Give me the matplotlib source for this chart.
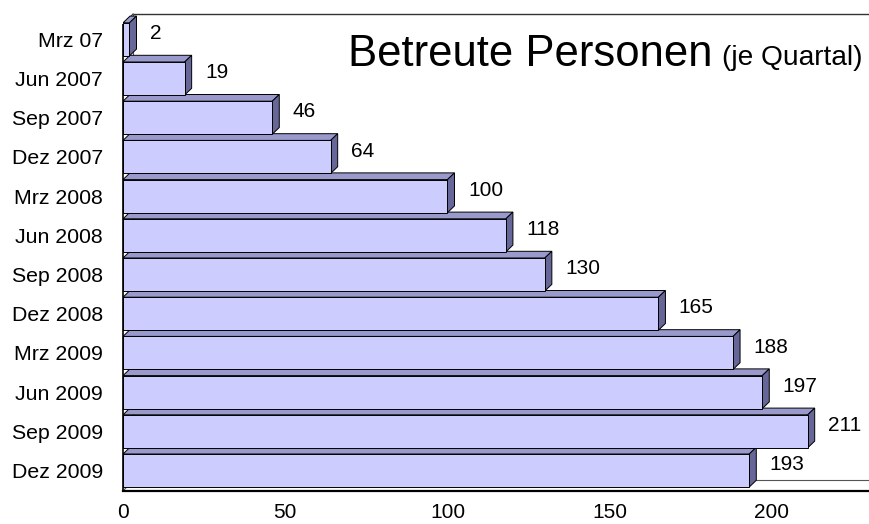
import matplotlib
matplotlib.use("Agg")
from matplotlib import pyplot as plt
from matplotlib.patches import Polygon

plt.rcParams["font.family"] = ["Liberation Sans", "DejaVu Sans"]

quarters = ["Mrz 07", "Jun 2007", "Sep 2007", "Dez 2007",
            "Mrz 2008", "Jun 2008", "Sep 2008", "Dez 2008",
            "Mrz 2009", "Jun 2009", "Sep 2009", "Dez 2009"]
persons = [2, 19, 46, 64, 100, 118, 130, 165, 188, 197, 211, 193]
xticks = [0, 50, 100, 150, 200]

W, H = 869, 524
fig = plt.figure(figsize=(W / 100, H / 100), dpi=100)
ax = fig.add_axes([123 / W, 33 / H, 746 / W, 477 / H])

px_x = 3.245   # pixels per value unit
px_y = 39.2    # pixels per category row
xmax = 746 / px_x
ylo = -0.523
ytop = ylo + 477 / px_y
ax.set_xlim(0, xmax)
ax.set_ylim(ylo, ytop)
for s in ax.spines.values():
    s.set_visible(False)

front = "#ccccff"
top_c = "#9999cc"
side_c = "#666699"

h = 0.421                 # half height of the bar front
bdx, bdy = 7 / px_x, 6.7 / px_y   # bar depth
fdx, fdy = 10 / px_x, 0.27        # frame depth
ffront_top = ytop - fdy

# back wall / floor
ax.plot([fdx, xmax], [ytop, ytop], color="#333333", lw=1.0, clip_on=False, zorder=1)
ax.plot([fdx, fdx], [ylo + fdy, ytop], color="#555555", lw=0.8, clip_on=False, zorder=1)
ax.plot([fdx, xmax], [ylo + fdy, ylo + fdy], color="#555555", lw=0.8, clip_on=False, zorder=1)
ax.plot([0, fdx], [ffront_top, ytop], color="#333333", lw=0.8, clip_on=False, zorder=1)
ax.plot([0, fdx], [ylo, ylo + fdy], color="#555555", lw=0.8, clip_on=False, zorder=1)

n = len(quarters)
for idx in range(n - 1, -1, -1):
    v = persons[idx]
    y = n - 1 - idx
    y0, y1 = y - h, y + h
    ax.add_patch(Polygon([(0, y1), (v, y1), (v + bdx, y1 + bdy), (bdx, y1 + bdy)],
                         closed=True, facecolor=top_c, edgecolor="black", lw=0.7, zorder=3))
    ax.add_patch(Polygon([(v, y0), (v + bdx, y0 + bdy), (v + bdx, y1 + bdy), (v, y1)],
                         closed=True, facecolor=side_c, edgecolor="black", lw=0.7, zorder=3))
    ax.add_patch(Polygon([(0, y0), (v, y0), (v, y1), (0, y1)],
                         closed=True, facecolor=front, edgecolor="black", lw=0.7, zorder=3))
    ax.text(v + 6.3, y + 0.15, str(v), ha="left", va="center", fontsize=15, zorder=5)

# front axes
ax.plot([0, 0], [ylo, ffront_top], color="black", lw=1.2, clip_on=False, zorder=4)
ax.plot([0, xmax], [ylo, ylo], color="black", lw=1.6, clip_on=False, zorder=4)

ax.set_yticks(range(n))
ax.set_yticklabels(quarters[::-1], fontsize=15.3)
ax.set_xticks(xticks)
ax.set_xticklabels([str(t) for t in xticks], fontsize=15)
ax.tick_params(axis="y", length=0, pad=14.4)
ax.tick_params(axis="x", length=0, pad=9)

fig.text(713 / W, 1 - 66.5 / H, "Betreute Personen", ha="right", va="baseline", fontsize=31.4)
fig.text(862 / W, 1 - 65 / H, "(je Quartal)", ha="right", va="baseline", fontsize=20.2)

fig.savefig("out.png", dpi=100)
